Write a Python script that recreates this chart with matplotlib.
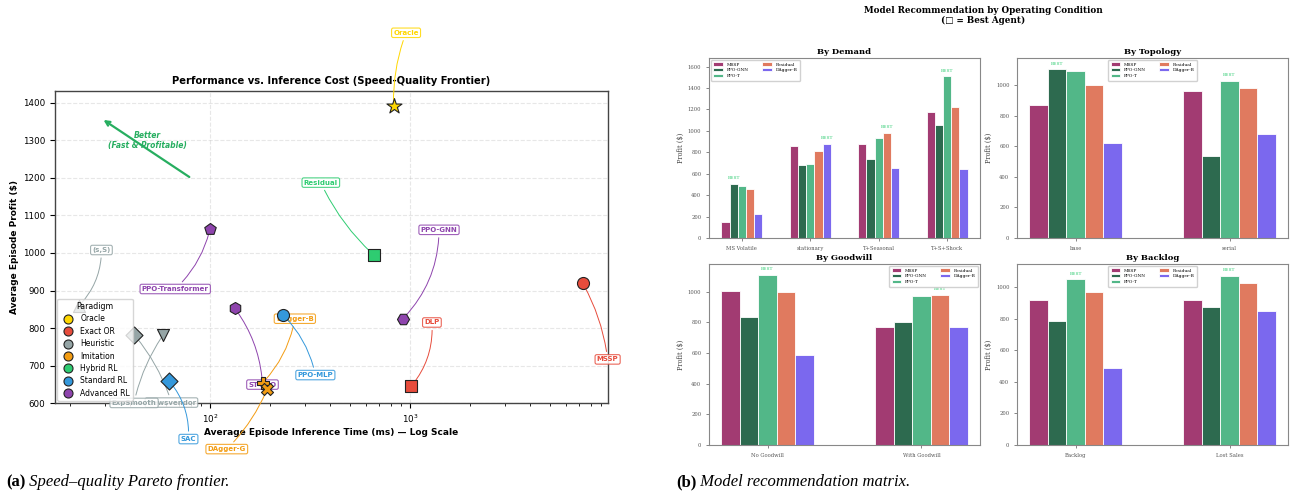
import numpy as np
import matplotlib.pyplot as plt
from matplotlib.lines import Line2D

# ---- speed / quality frontier ----
models = ['Oracle', 'MSSP', 'DLP', '(s,S)', 'Newsvendor', 'ExpSmooth', 'DAgger-B', 'DAgger-G',
          'Residual', 'PPO-MLP', 'SAC', 'PPO-Transformer', 'PPO-GNN', 'ST-PPO']
paradigm = ['Oracle', 'Exact OR', 'Exact OR', 'Heuristic', 'Heuristic', 'Heuristic', 'Imitation',
            'Imitation', 'Hybrid RL', 'Standard RL', 'Standard RL', 'Advanced RL', 'Advanced RL',
            'Advanced RL']
inference_ms = [828, 7300, 1013, 22.2, 41.7, 58.4, 184, 193, 658, 233, 62.4, 100, 922, 133]
avg_profit = [1390, 920, 645, 860, 783, 782, 655, 637, 995, 834, 660, 1063, 825, 853]

paradigm_names = ['Oracle', 'Exact OR', 'Heuristic', 'Imitation', 'Hybrid RL', 'Standard RL', 'Advanced RL']
paradigm_colors = ['#FFD700', '#E74C3C', '#95A5A6', '#F39C12', '#2ECC71', '#3498DB', '#8E44AD']

# ---- recommendation matrix ----
agents = ['MSSP', 'PPO-GNN', 'PPO-T', 'Residual', 'DAgger-B']
agent_colors = ['#A23B72', '#2D6A4F', '#52B788', '#E07A5F', '#7B68EE']

demand_conds = ['MS Volatile', 'stationary', 'T+Seasonal', 'T+S+Shock']
demand_profit = [[147, 856, 882, 1173],
                 [505, 681, 740, 1057],
                 [486, 693, 929, 1512],
                 [458, 812, 982, 1220],
                 [223, 878, 653, 640]]

topology_conds = ['base', 'serial']
topology_profit = [[869, 967], [1107, 539], [1092, 1031], [1000, 985], [622, 679]]

goodwill_conds = ['No Goodwill', 'With Goodwill']
goodwill_profit = [[1004, 770], [835, 804], [1109, 974], [1000, 980], [585, 770]]

backlog_conds = ['Backlog', 'Lost Sales']
backlog_profit = [[917, 919], [784, 873], [1051, 1072], [968, 1025], [487, 850]]

fig = plt.figure(figsize=(12.91, 4.95), dpi=100)

# ================= (a) frontier =================
ax = fig.add_axes([0.0426, 0.1853, 0.4281, 0.6309])
color_of = dict(zip(paradigm_names, paradigm_colors))
marker_of = {'Oracle': '*', 'MSSP': 'o', 'DLP': 's', '(s,S)': '^', 'Newsvendor': 'D',
             'ExpSmooth': 'v', 'DAgger-B': 'P', 'DAgger-G': 'X', 'Residual': 's',
             'PPO-MLP': 'o', 'SAC': 'D', 'PPO-Transformer': 'p', 'PPO-GNN': 'H', 'ST-PPO': 'h'}
label_offset = {'Oracle': (9, 53), 'MSSP': (18, -55), 'DLP': (15, 46), '(s,S)': (16, 40),
                'Newsvendor': (27, -49), 'ExpSmooth': (-21, -49), 'DAgger-B': (23, 46),
                'DAgger-G': (-29, -43), 'Residual': (-38, 52), 'PPO-MLP': (23, -43),
                'SAC': (14, -42), 'PPO-Transformer': (-25, -43), 'PPO-GNN': (26, 64),
                'ST-PPO': (20, -55)}
arc = {'Oracle': 0.1, 'MSSP': 0.1, 'DLP': -0.2, '(s,S)': -0.2, 'Newsvendor': 0.1,
       'ExpSmooth': -0.1, 'DAgger-B': -0.15, 'DAgger-G': 0.1, 'Residual': 0.1, 'PPO-MLP': 0.15,
       'SAC': 0.2, 'PPO-Transformer': 0.15, 'PPO-GNN': -0.2, 'ST-PPO': 0.15}

# markers sit above the label boxes
for name, par, t, p in zip(models, paradigm, inference_ms, avg_profit):
    c = color_of[par]
    size = 130 if name == 'Oracle' else 75
    ax.scatter(t, p, s=size, marker=marker_of[name], color=c, edgecolors='#222222',
               linewidths=0.8, zorder=5)

for name, par, t, p in zip(models, paradigm, inference_ms, avg_profit):
    c = color_of[par]
    ax.annotate(name, (t, p), xytext=label_offset[name], textcoords='offset points',
                ha='center', va='center', fontsize=5, fontweight='bold', color=c,
                bbox=dict(boxstyle='round,pad=0.25', fc='white', ec=c, lw=0.8, alpha=0.85),
                arrowprops=dict(arrowstyle='-', color=c, lw=0.7,
                                connectionstyle=f'arc3,rad={arc[name]}'),
                annotation_clip=False, zorder=4)

ax.annotate('', xy=(28.6, 1358), xytext=(81, 1198),
            arrowprops=dict(arrowstyle='->', color='#27AE60', lw=1.6, mutation_scale=8))
ax.text(48.8, 1300, 'Better\n(Fast & Profitable)', ha='center', va='center', fontsize=5.5,
        fontweight='bold', fontstyle='italic', color='#27AE60')

ax.set_xscale('log')
ax.set_xlim(16.8, 9740)
ax.set_ylim(600, 1431)
ax.set_yticks(range(600, 1401, 100))
ax.grid(True, which='major', linestyle='--', alpha=0.3)
ax.tick_params(labelsize=6.3)
ax.set_xlabel('Average Episode Inference Time (ms) — Log Scale', fontsize=6.5, fontweight='bold',
              labelpad=2)
ax.set_ylabel('Average Episode Profit ($)', fontsize=6.5, fontweight='bold', labelpad=3)
ax.set_title('Performance vs. Inference Cost (Speed-Quality Frontier)', fontsize=7.2,
             fontweight='bold', pad=5)
for sp in ax.spines.values():
    sp.set_color('#444444')
    sp.set_linewidth(1.0)

handles = [Line2D([0], [0], marker='o', linestyle='', markersize=6.5, markerfacecolor=c,
                  markeredgecolor='#222222', markeredgewidth=0.8, label=n)
           for n, c in zip(paradigm_names, paradigm_colors)]
leg = ax.legend(handles=handles, title='Paradigm', loc='lower left', fontsize=5.5,
                title_fontsize=5.7, framealpha=0.8, borderaxespad=0.3, handletextpad=0.6,
                labelspacing=0.45)
leg.set_zorder(6)

# ================= (b) recommendation matrix =================
serif = ['DejaVu Serif', 'DejaVu Sans']
panels = [
    ('By Demand', demand_conds, demand_profit, 1680, 'upper left', [0.5492, 0.5192, 0.2099, 0.3636]),
    ('By Topology', topology_conds, topology_profit, 1180, 'upper center', [0.7878, 0.5192, 0.2099, 0.3636]),
    ('By Goodwill', goodwill_conds, goodwill_profit, 1180, 'upper right', [0.5492, 0.1010, 0.2099, 0.3657]),
    ('By Backlog', backlog_conds, backlog_profit, 1148, 'upper center', [0.7878, 0.1010, 0.2099, 0.3657]),
]
width = 0.12
for title, conds, profit, ytop, loc, rect in panels:
    bx = fig.add_axes(rect)
    vals = np.array(profit, dtype=float)
    x = np.arange(len(conds))
    for i, (agent, c) in enumerate(zip(agents, agent_colors)):
        bx.bar(x + (i - 2) * width, vals[i], width, color=c, edgecolor='white', linewidth=0.6,
               label=agent)
    best = vals.argmax(axis=0)
    for j, b in enumerate(best):
        bx.annotate('BEST', (x[j] + (b - 2) * width, vals[b, j]), xytext=(0, 2.5),
                    textcoords='offset points', ha='center', va='bottom', fontsize=3.2,
                    color='#2ECC71', family=serif)
    bx.set_ylim(0, ytop)
    bx.set_xticks(x)
    bx.set_xticklabels(conds, family=serif)
    for lab in bx.get_yticklabels():
        lab.set_family(serif)
    bx.tick_params(labelsize=3.8, labelcolor='#555555', length=2, width=0.5, colors='#555555')
    bx.set_ylabel('Profit ($)', fontsize=4.8, family=serif, color='#444444', labelpad=2)
    bx.set_title(title, fontsize=6, fontweight='bold', family=serif, pad=3)
    for sp in bx.spines.values():
        sp.set_color('#888888')
        sp.set_linewidth(0.8)
    bx.legend(loc=loc, ncol=2, prop={'family': 'DejaVu Serif', 'size': 3.2},
              handlelength=2.2, handleheight=0.7, columnspacing=3, borderpad=0.5,
              labelspacing=0.4, framealpha=0.9, edgecolor='#cccccc')

fig.text(983 / 1291, 1 - 15.5 / 495, 'Model Recommendation by Operating Condition\n(□ = Best Agent)',
         ha='center', va='center', fontsize=6.3, fontweight='bold', family=serif,
         multialignment='center', linespacing=1.1)

# ---- sub-captions ----
for xpix, tag, cap in [(6, '(a)', ' Speed–quality Pareto frontier.'),
                       (676, '(b)', ' Model recommendation matrix.')]:
    t = fig.text(xpix / 1291, 1 - 482 / 495, tag, ha='left', va='center', fontsize=12,
                 fontweight='bold', family='Liberation Serif')
    fig.add_artist(plt.Annotation(cap, xy=(1, 0.5), xycoords=t, va='center', ha='left',
                                  fontsize=12, fontstyle='italic', family='Liberation Serif'))

fig.savefig('out.png', dpi=100)
